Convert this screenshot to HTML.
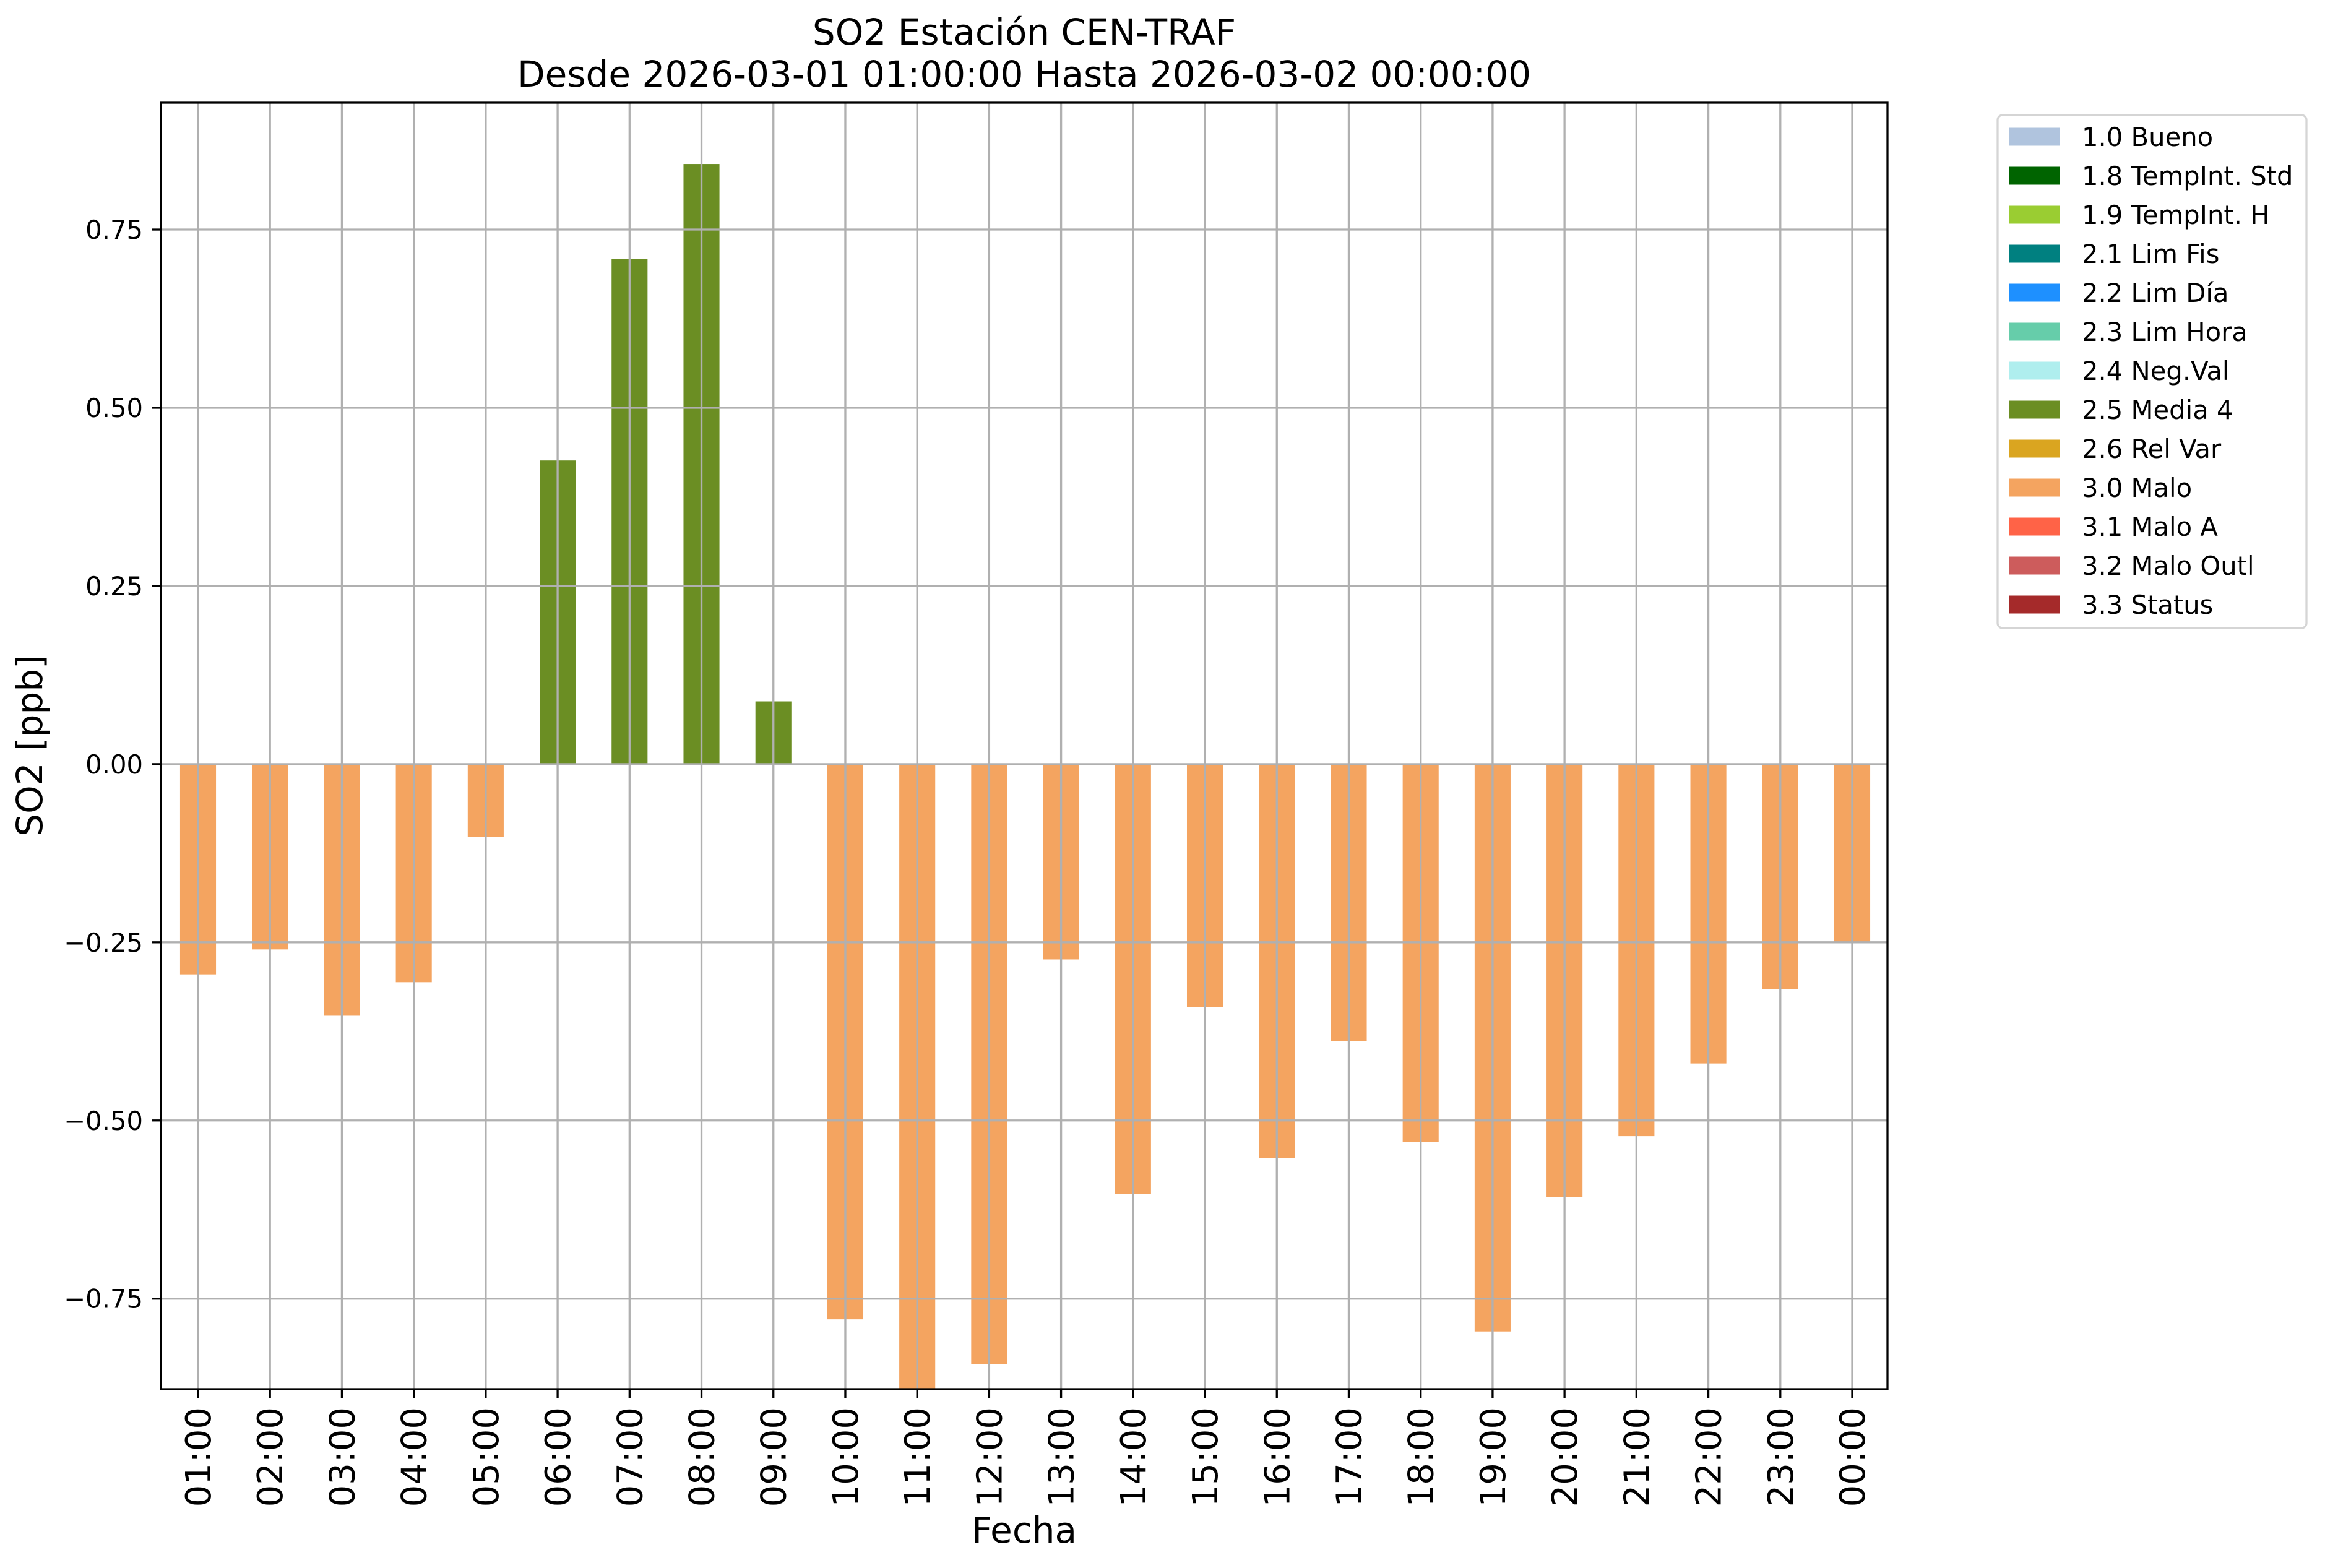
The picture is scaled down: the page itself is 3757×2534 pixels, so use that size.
<!DOCTYPE html>
<html><head><meta charset="utf-8"><style>
html,body{margin:0;padding:0;background:#fff;}
svg{display:block;font-family:"DejaVu Sans","Liberation Sans",sans-serif;}
</style></head><body>
<svg id="chart" width="3757" height="2534" viewBox="0 0 3757 2534" xmlns="http://www.w3.org/2000/svg">
<rect x="0" y="0" width="3757" height="2534" fill="#fff"/>
<text x="1655" y="72" font-size="58" text-anchor="middle">SO2 Estación CEN-TRAF</text>
<text x="1655" y="140" font-size="58" text-anchor="middle">Desde 2026-03-01 01:00:00 Hasta 2026-03-02 00:00:00</text>
<g id="bars"></g>
<g id="grid"></g>
<g id="yaxis"></g>
<g id="xaxis"></g>
<rect x="260" y="166" width="2790" height="2079" fill="none" stroke="#000" stroke-width="3.3"/>
<text transform="translate(68,1205) rotate(-90)" font-size="58" text-anchor="middle">SO2 [ppb]</text>
<text x="1655" y="2493" font-size="58" text-anchor="middle">Fecha</text>
<g id="legend">
<rect x="3228" y="186" width="499" height="829" rx="8" fill="#fff" stroke="#d5d5d5" stroke-width="3.3"/>
</g>
</svg>
<script>
const categories = ["01:00","02:00","03:00","04:00","05:00","06:00","07:00","08:00","09:00","10:00","11:00","12:00","13:00","14:00","15:00","16:00","17:00","18:00","19:00","20:00","21:00","22:00","23:00","00:00"];
const values = [-0.295,-0.26,-0.353,-0.306,-0.102,0.426,0.709,0.842,0.088,-0.779,-0.88,-0.842,-0.274,-0.603,-0.341,-0.553,-0.389,-0.530,-0.796,-0.607,-0.522,-0.420,-0.316,-0.249];
const flags = ["3.0","3.0","3.0","3.0","3.0","2.5","2.5","2.5","2.5","3.0","3.0","3.0","3.0","3.0","3.0","3.0","3.0","3.0","3.0","3.0","3.0","3.0","3.0","3.0"];
const yTicks = [0.75,0.5,0.25,0,-0.25,-0.5,-0.75];
const yTickLabels = ["0.75","0.50","0.25","0.00","\u22120.25","\u22120.50","\u22120.75"];
const legendLabels = ["1.0 Bueno","1.8 TempInt. Std","1.9 TempInt. H","2.1 Lim Fis","2.2 Lim Día","2.3 Lim Hora","2.4 Neg.Val","2.5 Media 4","2.6 Rel Var","3.0 Malo","3.1 Malo A","3.2 Malo Outl","3.3 Status"];
const legendColors = ["#b0c4de","#006400","#9acd32","#008080","#1e90ff","#66cdaa","#afeeee","#6b8e23","#daa520","#f4a460","#ff6347","#cd5c5c","#a52a2a"];

const NS="http://www.w3.org/2000/svg";
const L=260,R=3050,T=166,B=2245,yMin=-0.877,yMax=0.928;
const n=categories.length;
const x0=320, step=(2993-320)/(n-1);
function xPos(i){return x0+i*step;}
function yPos(v){return B-(v-yMin)/(yMax-yMin)*(B-T);}
function mk(tag,attrs,parent){const e=document.createElementNS(NS,tag);for(const k in attrs)e.setAttribute(k,attrs[k]);parent.appendChild(e);return e;}
const colorOf = f => legendColors[legendLabels.findIndex(l=>l.startsWith(f))];

const gb=document.getElementById('bars');
const bw=step*0.5;
values.forEach((v,i)=>{
  const y1=yPos(Math.max(v,0)), y2=yPos(Math.min(v,0));
  const top=Math.max(y1,T), bot=Math.min(y2,B);
  const r=mk('rect',{x:xPos(i)-bw/2,y:top,width:bw,height:Math.max(0,bot-top),fill:colorOf(flags[i])},gb);
  
  
});

const gg=document.getElementById('grid');
categories.forEach((c,i)=>{
  const l=mk('line',{x1:xPos(i),x2:xPos(i),y1:T,y2:B,stroke:'#b0b0b0','stroke-width':3.3},gg);
  
  
});
yTicks.forEach(v=>{
  const l=mk('line',{x1:L,x2:R,y1:yPos(v),y2:yPos(v),stroke:'#b0b0b0','stroke-width':3.3},gg);
  
  
});

const gy=document.getElementById('yaxis');
yTicks.forEach((v,i)=>{
  const y=yPos(v);
  const t=mk('line',{x1:L-14.6,x2:L,y1:y,y2:y,stroke:'#000','stroke-width':3.3},gy);
  
  
  const tx=mk('text',{x:L-29,y:y+15,'font-size':41.7,'text-anchor':'end'},gy);
  tx.textContent=yTickLabels[i];
  
  
});

const gx=document.getElementById('xaxis');
categories.forEach((c,i)=>{
  const x=xPos(i);
  const t=mk('line',{x1:x,x2:x,y1:B,y2:B+14.6,stroke:'#000','stroke-width':3.3},gx);
  
  
  const tx=mk('text',{transform:`translate(${x+20},${B+29}) rotate(-90)`,'font-size':56,'text-anchor':'end'},gx);
  tx.textContent=c;
  
  
});

const gl=document.getElementById('legend');
legendLabels.forEach((lab,i)=>{
  const cy=221+i*63;
  const p=mk('rect',{x:3246,y:cy-14.5,width:83,height:29,fill:legendColors[i]},gl);
  
  
  const tx=mk('text',{x:3364,y:cy+15,'font-size':41.7},gl);
  tx.textContent=lab;
  
  
});
</script>
</body></html>
